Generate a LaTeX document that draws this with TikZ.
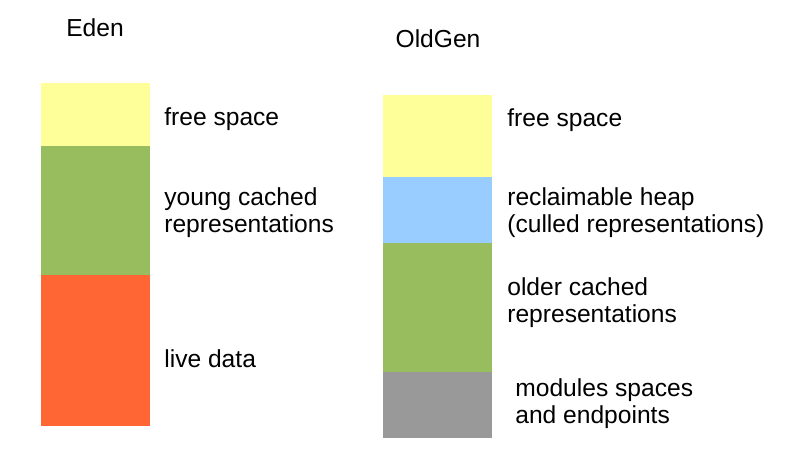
\documentclass[tikz,border=0pt]{standalone}
\usepackage{fontspec}
\setmainfont{Liberation Sans}
\usetikzlibrary{positioning}

\definecolor{freeyellow}{HTML}{FFFF99}
\definecolor{cachegreen}{HTML}{97BD5F}
\definecolor{liveorange}{HTML}{FF6633}
\definecolor{heapblue}{HTML}{99CCFF}
\definecolor{modgray}{HTML}{999999}

\tikzset{
  block/.style={inner sep=0pt, outer sep=0pt, minimum width=2.19cm},
  caption/.style={anchor=base west, align=left, inner sep=0pt, font=\fontsize{14}{15.3}\selectfont},
}

\begin{document}
\begin{tikzpicture}[x=0.02cm, y=-0.02cm]
    \useasboundingbox (0,0) rectangle (800,470);

    % Eden column
    \node[caption, anchor=base] (edenT) at (95,36) {Eden};
    \node[block, anchor=north west, fill=freeyellow, minimum height=1.26cm] (edenFree) at (41,83) {};
    \node[block, below=0pt of edenFree, fill=cachegreen, minimum height=2.58cm] (edenYoung) {};
    \node[block, below=0pt of edenYoung, fill=liveorange, minimum height=3.02cm] (edenLive) {};

    \node[caption] (edenFreeL) at (164,125) {free space};
    \node[caption] (edenYoungL) at (164,232) {young cached\\representations};
    \node[caption] (edenLiveL) at (164,367) {live data};

    % OldGen column
    \node[caption, anchor=base] (oldT) at (438,47) {OldGen};
    \node[block, anchor=north west, fill=freeyellow, minimum height=1.64cm] (oldFree) at (383,95) {};
    \node[block, below=0pt of oldFree, fill=heapblue, minimum height=1.32cm] (oldHeap) {};
    \node[block, below=0pt of oldHeap, fill=cachegreen, minimum height=2.58cm] (oldCache) {};
    \node[block, below=0pt of oldCache, fill=modgray, minimum height=1.32cm] (oldMod) {};

    \node[caption] (oldFreeL) at (507,126) {free space};
    \node[caption] (oldHeapL) at (507,232) {reclaimable heap\\(culled representations)};
    \node[caption] (oldCacheL) at (507,322) {older cached\\representations};
    \node[caption] (oldModL) at (515,423) {modules spaces\\and endpoints};
\end{tikzpicture}
\end{document}
